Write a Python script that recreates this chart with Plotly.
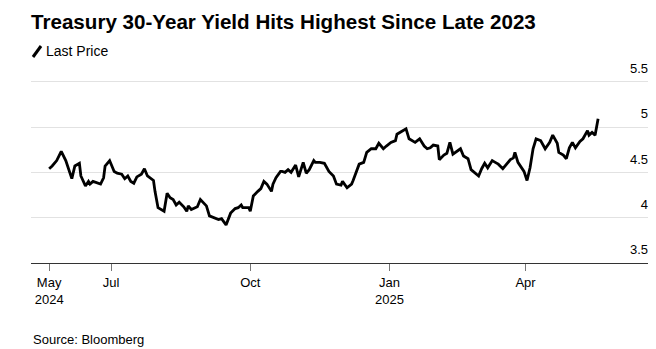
import plotly.graph_objects as go

# 30-year US Treasury yield, last price (%)
dates = [
    "2024-05-21", "2024-05-23", "2024-05-26", "2024-05-29", "2024-06-01", "2024-06-03",
    "2024-06-05", "2024-06-07", "2024-06-10", "2024-06-11", "2024-06-14", "2024-06-16",
    "2024-06-17", "2024-06-19", "2024-06-21", "2024-06-24", "2024-06-26", "2024-06-27",
    "2024-06-30", "2024-07-03", "2024-07-05", "2024-07-08", "2024-07-10", "2024-07-12",
    "2024-07-14", "2024-07-16", "2024-07-18", "2024-07-21", "2024-07-23", "2024-07-25",
    "2024-07-29", "2024-07-30", "2024-08-01", "2024-08-05", "2024-08-07", "2024-08-09",
    "2024-08-11", "2024-08-13", "2024-08-15", "2024-08-18", "2024-08-20", "2024-08-21",
    "2024-08-23", "2024-08-27", "2024-08-29", "2024-09-02", "2024-09-04", "2024-09-07",
    "2024-09-10", "2024-09-12", "2024-09-15", "2024-09-18", "2024-09-21", "2024-09-23",
    "2024-09-25", "2024-09-26", "2024-09-30", "2024-10-01", "2024-10-03", "2024-10-06",
    "2024-10-08", "2024-10-10", "2024-10-12", "2024-10-15", "2024-10-16", "2024-10-18",
    "2024-10-21", "2024-10-22", "2024-10-24", "2024-10-26", "2024-10-28", "2024-10-31",
    "2024-11-02", "2024-11-05", "2024-11-07", "2024-11-09", "2024-11-12", "2024-11-13",
    "2024-11-16", "2024-11-19", "2024-11-22", "2024-11-25", "2024-11-27", "2024-11-30",
    "2024-12-01", "2024-12-04", "2024-12-07", "2024-12-08", "2024-12-10", "2024-12-12",
    "2024-12-15", "2024-12-17", "2024-12-20", "2024-12-23", "2024-12-25", "2024-12-28",
    "2024-12-30", "2025-01-02", "2025-01-05", "2025-01-06", "2025-01-09", "2025-01-12",
    "2025-01-14", "2025-01-18", "2025-01-21", "2025-01-24", "2025-01-26", "2025-01-28",
    "2025-01-30", "2025-02-02", "2025-02-03", "2025-02-06", "2025-02-08", "2025-02-10",
    "2025-02-12", "2025-02-17", "2025-02-19", "2025-02-22", "2025-02-24", "2025-02-26",
    "2025-03-01", "2025-03-03", "2025-03-05", "2025-03-07", "2025-03-10", "2025-03-12",
    "2025-03-14", "2025-03-17", "2025-03-22", "2025-03-24", "2025-03-25", "2025-03-27",
    "2025-03-29", "2025-03-31", "2025-04-02", "2025-04-04", "2025-04-06", "2025-04-08",
    "2025-04-11", "2025-04-14", "2025-04-17", "2025-04-19", "2025-04-22", "2025-04-23",
    "2025-04-26", "2025-04-28", "2025-04-30", "2025-05-02", "2025-05-04", "2025-05-07",
    "2025-05-09", "2025-05-12", "2025-05-13", "2025-05-15", "2025-05-17", "2025-05-19",
]
yields = [
    4.54, 4.57, 4.63, 4.73, 4.63, 4.53,
    4.43, 4.57, 4.60, 4.46, 4.35, 4.40,
    4.37, 4.40, 4.39, 4.37, 4.44, 4.57,
    4.63, 4.51, 4.49, 4.48, 4.43, 4.46,
    4.40, 4.38, 4.45, 4.48, 4.54, 4.46,
    4.41, 4.29, 4.11, 4.07, 4.27, 4.22,
    4.20, 4.14, 4.17, 4.12, 4.07, 4.13,
    4.09, 4.12, 4.20, 4.13, 4.02, 4.00,
    3.98, 3.99, 3.92, 4.05, 4.10, 4.11,
    4.14, 4.11, 4.11, 4.07, 4.24, 4.29,
    4.32, 4.40, 4.37, 4.29, 4.37, 4.44,
    4.51, 4.51, 4.50, 4.53, 4.50, 4.58,
    4.45, 4.61, 4.49, 4.53, 4.63, 4.61,
    4.61, 4.60, 4.51, 4.46, 4.37, 4.36,
    4.40, 4.33, 4.37, 4.41, 4.51, 4.59,
    4.61, 4.72, 4.76, 4.76, 4.82, 4.76,
    4.79, 4.83, 4.85, 4.92, 4.95, 4.98,
    4.87, 4.83, 4.87, 4.79, 4.76, 4.77,
    4.80, 4.79, 4.64, 4.69, 4.71, 4.83,
    4.70, 4.76, 4.68, 4.65, 4.53, 4.50,
    4.46, 4.54, 4.60, 4.55, 4.63, 4.61,
    4.59, 4.54, 4.64, 4.66, 4.72, 4.61,
    4.56, 4.51, 4.41, 4.55, 4.76, 4.87,
    4.85, 4.76, 4.83, 4.91, 4.82, 4.72,
    4.69, 4.65, 4.77, 4.83, 4.77, 4.84,
    4.87, 4.96, 4.91, 4.94, 4.91, 5.09,
]

x_tick_vals = ["2024-05-21", "2024-07-01", "2024-10-01", "2025-01-01", "2025-04-01"]
x_tick_text = ["May<br>2024", "Jul", "Oct", "Jan<br>2025", "Apr"]
y_tick_vals = [3.5, 4, 4.5, 5, 5.5]
y_tick_text = ["3.5", "4", "4.5", "5", "5.5"]

title_text = "Treasury 30-Year Yield Hits Highest Since Late 2023"
series_name = "Last Price"
source_text = "Source: Bloomberg"

FONT = "Liberation Sans"
W, H = 656, 349
M_L, M_R, M_T, M_B = 31, 8, 59, 86
plot_w = W - M_L - M_R
plot_h = H - M_T - M_B
# headroom above 5.5 keeps its label inside the plot area
Y_RANGE = [3.5, 5.75]


def px_x(px):
    return (px - M_L) / plot_w


def px_y(py):
    return (H - M_B - py) / plot_h


fig = go.Figure()
fig.add_trace(go.Scatter(
    x=dates, y=yields, mode="lines", name=series_name,
    line=dict(color="#000000", width=2.8), showlegend=False,
))

fig.update_layout(
    width=W, height=H,
    margin=dict(l=M_L, r=M_R, t=M_T, b=M_B),
    paper_bgcolor="white", plot_bgcolor="white",
    font=dict(family=FONT, color="#000000", size=13),
    title=dict(
        text="<b>" + title_text + "</b>",
        x=31 / W, xanchor="left", xref="container",
        y=1 - 22 / H, yanchor="middle", yref="container",
        font=dict(family=FONT, size=20.6, color="#000000"),
    ),
    xaxis=dict(
        type="date",
        range=["2024-05-09", "2025-06-21"],
        tickvals=x_tick_vals, ticktext=x_tick_text,
        showgrid=False, zeroline=False,
        showline=True, linecolor="#333333", linewidth=1,
        ticks="outside", ticklen=7, tickcolor="#777777", tickwidth=1,
        tickfont=dict(family=FONT, size=13, color="#000000"),
    ),
    yaxis=dict(
        range=Y_RANGE,
        side="right",
        tickvals=y_tick_vals, ticktext=y_tick_text,
        ticklabelposition="inside top",
        ticklabelshift=-4, ticklabelstandoff=-3,
        showgrid=True, gridcolor="#e2e2e2", gridwidth=1,
        zeroline=False, showline=False, ticks="",
        tickfont=dict(family=FONT, size=13, color="#000000"),
    ),
)

# legend: slash glyph and series name
fig.add_shape(
    type="line", xref="paper", yref="paper",
    x0=px_x(33), y0=px_y(57), x1=px_x(41), y1=px_y(46),
    line=dict(color="#000000", width=3),
)
fig.add_annotation(
    text=series_name, xref="paper", yref="paper",
    x=px_x(44), y=px_y(51), xanchor="left", yanchor="middle",
    showarrow=False, font=dict(family=FONT, size=14, color="#000000"),
)
fig.add_annotation(
    text=source_text, xref="paper", yref="paper",
    x=px_x(31), y=px_y(339), xanchor="left", yanchor="middle",
    showarrow=False, font=dict(family=FONT, size=13, color="#000000"),
)

fig.write_html("out.html")
